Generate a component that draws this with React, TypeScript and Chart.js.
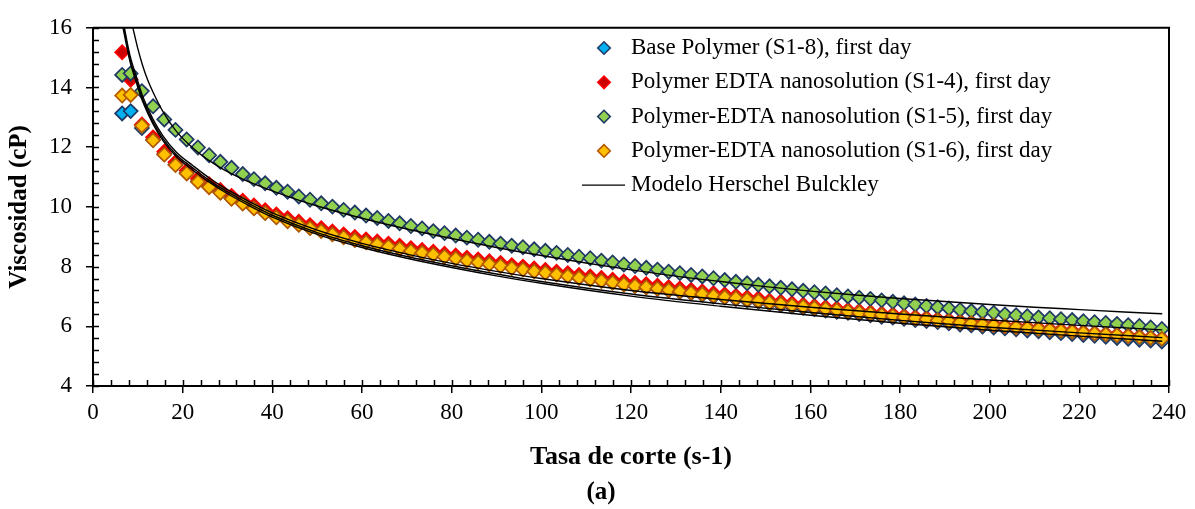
import React, { useEffect, useRef } from 'react';
import { Chart, registerables } from 'chart.js';

Chart.register(...registerables);

const FONT = "'Liberation Serif', 'Times New Roman', Times, serif";

// ---- data ----
const shearRate = [
  6.5, 8.4,
  10.9, 13.4, 15.9, 18.4, 20.9, 23.4, 25.9, 28.4, 30.9, 33.4,
  35.9, 38.4, 40.9, 43.4, 45.9, 48.4, 50.9, 53.4, 55.9, 58.4,
  60.9, 63.4, 65.9, 68.4, 70.9, 73.4, 75.9, 78.4, 80.9, 83.4,
  85.9, 88.4, 90.9, 93.4, 95.9, 98.4, 100.9, 103.4, 105.9, 108.4,
  110.9, 113.4, 115.9, 118.4, 120.9, 123.4, 125.9, 128.4, 130.9, 133.4,
  135.9, 138.4, 140.9, 143.4, 145.9, 148.4, 150.9, 153.4, 155.9, 158.4,
  160.9, 163.4, 165.9, 168.4, 170.9, 173.4, 175.9, 178.4, 180.9, 183.4,
  185.9, 188.4, 190.9, 193.4, 195.9, 198.4, 200.9, 203.4, 205.9, 208.4,
  210.9, 213.4, 215.9, 218.4, 220.9, 223.4, 225.9, 228.4, 230.9, 233.4,
  235.9, 238.4,
];

const baseS18 = [
  13.13, 13.21,
  12.64, 12.25, 11.77, 11.42, 11.14, 10.86, 10.68, 10.49, 10.29, 10.13,
  9.97, 9.81, 9.67, 9.54, 9.42, 9.31, 9.21, 9.10, 9.00, 8.91,
  8.83, 8.76, 8.69, 8.62, 8.54, 8.48, 8.42, 8.35, 8.29, 8.22,
  8.16, 8.10, 8.04, 7.97, 7.92, 7.86, 7.81, 7.75, 7.70, 7.64,
  7.59, 7.54, 7.48, 7.42, 7.36, 7.31, 7.26, 7.21, 7.16, 7.11,
  7.06, 7.00, 6.96, 6.91, 6.86, 6.82, 6.76, 6.71, 6.66, 6.62,
  6.58, 6.53, 6.49, 6.45, 6.41, 6.37, 6.32, 6.29, 6.25, 6.21,
  6.18, 6.14, 6.10, 6.06, 6.03, 5.99, 5.96, 5.93, 5.90, 5.86,
  5.83, 5.80, 5.77, 5.74, 5.71, 5.68, 5.65, 5.61, 5.58, 5.55,
  5.52, 5.49,
];

const edtaS14 = [
  15.18, 14.26,
  12.76, 12.33, 11.85, 11.50, 11.22, 10.94, 10.76, 10.57, 10.37, 10.21,
  10.05, 9.89, 9.75, 9.62, 9.50, 9.39, 9.29, 9.18, 9.08, 8.99,
  8.91, 8.84, 8.77, 8.70, 8.62, 8.56, 8.50, 8.43, 8.37, 8.30,
  8.24, 8.18, 8.12, 8.05, 8.00, 7.94, 7.89, 7.83, 7.78, 7.72,
  7.67, 7.62, 7.56, 7.50, 7.45, 7.41, 7.36, 7.31, 7.27, 7.22,
  7.17, 7.11, 7.07, 7.02, 6.97, 6.93, 6.86, 6.82, 6.77, 6.72,
  6.68, 6.64, 6.60, 6.55, 6.51, 6.47, 6.43, 6.40, 6.35, 6.31,
  6.28, 6.24, 6.21, 6.17, 6.13, 6.09, 6.06, 6.03, 6.00, 5.97,
  5.94, 5.91, 5.88, 5.85, 5.81, 5.78, 5.75, 5.72, 5.69, 5.66,
  5.63, 5.60,
];

const edtaS15 = [
  14.42, 14.47,
  13.88, 13.37, 12.93, 12.58, 12.26, 11.99, 11.73, 11.51, 11.31, 11.10,
  10.93, 10.79, 10.64, 10.51, 10.35, 10.24, 10.12, 10.01, 9.90, 9.81,
  9.71, 9.63, 9.53, 9.45, 9.36, 9.28, 9.19, 9.12, 9.04, 8.97,
  8.90, 8.83, 8.77, 8.70, 8.65, 8.58, 8.53, 8.46, 8.39, 8.33,
  8.28, 8.20, 8.14, 8.07, 8.02, 7.96, 7.90, 7.83, 7.78, 7.72,
  7.67, 7.61, 7.55, 7.49, 7.44, 7.39, 7.34, 7.29, 7.24, 7.19,
  7.14, 7.10, 7.04, 7.00, 6.96, 6.92, 6.87, 6.82, 6.77, 6.73,
  6.68, 6.64, 6.60, 6.55, 6.51, 6.48, 6.45, 6.40, 6.37, 6.34,
  6.30, 6.27, 6.24, 6.21, 6.17, 6.14, 6.11, 6.08, 6.04, 6.01,
  5.96, 5.91,
];

const edtaS16 = [
  13.73, 13.75,
  12.72, 12.23, 11.75, 11.40, 11.12, 10.84, 10.66, 10.47, 10.27, 10.11,
  9.95, 9.79, 9.65, 9.52, 9.40, 9.29, 9.19, 9.08, 8.98, 8.89,
  8.81, 8.74, 8.67, 8.60, 8.52, 8.46, 8.40, 8.33, 8.27, 8.20,
  8.14, 8.08, 8.02, 7.95, 7.90, 7.84, 7.79, 7.73, 7.68, 7.62,
  7.57, 7.52, 7.46, 7.40, 7.35, 7.31, 7.26, 7.21, 7.17, 7.12,
  7.08, 7.02, 6.98, 6.94, 6.89, 6.85, 6.79, 6.75, 6.70, 6.66,
  6.62, 6.58, 6.54, 6.50, 6.46, 6.42, 6.38, 6.35, 6.31, 6.27,
  6.24, 6.20, 6.17, 6.13, 6.10, 6.06, 6.03, 6.00, 5.97, 5.94,
  5.91, 5.88, 5.85, 5.82, 5.79, 5.76, 5.73, 5.70, 5.67, 5.64,
  5.61, 5.58,
];

// Herschel-Bulkley model curves
const hbX14 = [7.0, 8.2, 9.7, 11.1, 13.4, 15.6, 18.6, 22.3, 26, 30, 35, 40, 50, 60, 70, 80, 90, 100, 120, 140, 160, 180, 200, 220, 238.5];
const hbS14 = [16.0, 15.1, 14.35, 13.7, 12.93, 12.38, 11.83, 11.38, 10.96, 10.58, 10.17, 9.8, 9.22, 8.78, 8.42, 8.11, 7.84, 7.6, 7.2, 6.9, 6.64, 6.41, 6.21, 6.03, 5.88];
const hbX16 = [6.85, 8.2, 9.7, 11.1, 13.4, 15.6, 18.6, 22.3, 26, 30, 35, 40, 50, 60, 70, 80, 90, 100, 120, 140, 160, 180, 200, 220, 238.5];
const hbS16 = [16.0, 14.98, 14.24, 13.6, 12.84, 12.29, 11.75, 11.3, 10.88, 10.5, 10.09, 9.72, 9.14, 8.7, 8.34, 8.03, 7.75, 7.5, 7.08, 6.75, 6.46, 6.2, 5.97, 5.78, 5.62];
const hbX18 = [6.7, 8.2, 9.7, 11.1, 13.4, 15.6, 18.6, 22.3, 26, 30, 35, 40, 50, 60, 70, 80, 90, 100, 120, 140, 160, 180, 200, 220, 238.5];
const hbS18 = [16.0, 14.9, 14.15, 13.52, 12.77, 12.22, 11.68, 11.23, 10.82, 10.44, 10.03, 9.66, 9.08, 8.64, 8.28, 7.97, 7.69, 7.44, 7.01, 6.67, 6.37, 6.1, 5.87, 5.67, 5.5];
const hbX15 = [8.9, 10, 11.1, 12.2, 13.4, 15.6, 18.6, 23, 28.2, 33.4, 39.4, 45, 50, 60, 70, 80, 90, 100, 110, 120, 130, 140, 150, 160, 170, 180, 190, 200, 210, 220, 230, 238.5];
const hbS15 = [16.0, 15.3, 14.72, 14.25, 13.84, 13.19, 12.53, 11.88, 11.33, 10.93, 10.57, 10.27, 10.03, 9.62, 9.26, 8.94, 8.64, 8.37, 8.12, 7.89, 7.68, 7.5, 7.33, 7.18, 7.05, 6.93, 6.83, 6.73, 6.64, 6.56, 6.48, 6.42];

const xTicks = { min: 0, max: 240, step: 20, minor: 4 };
const yTicks = { min: 4, max: 16, step: 2, minor: 0.4 };

const seriesLabels = [
  'Base Polymer (S1-8), first day',
  'Polymer EDTA nanosolution (S1-4), first day',
  'Polymer-EDTA nanosolution (S1-5), first day',
  'Polymer-EDTA nanosolution (S1-6), first day',
];
const modelLabel = 'Modelo Herschel Bulckley';
const xTitle = 'Tasa de corte (s-1)';
const yTitle = 'Viscosidad (cP)';
const panelLabel = '(a)';

const styles = [
  { fill: '#00B0F0', border: '#1F3864' },
  { fill: '#CC0000', border: '#FF0000' },
  { fill: '#92D050', border: '#1F3864' },
  { fill: '#FFC000', border: '#B35900' },
];

const pts = (xs: number[], ys: number[]) => xs.map((x, i) => ({ x, y: ys[i] }));

function diamond(ctx: CanvasRenderingContext2D, x: number, y: number, r: number, fill: string, border: string, bw: number) {
  ctx.beginPath();
  ctx.moveTo(x - r, y);
  ctx.lineTo(x, y - r);
  ctx.lineTo(x + r, y);
  ctx.lineTo(x, y + r);
  ctx.closePath();
  ctx.fillStyle = fill;
  ctx.fill();
  ctx.lineWidth = bw;
  ctx.strokeStyle = border;
  ctx.stroke();
}

const framePlugin = {
  id: 'frameTicks',
  afterDraw(chart: any) {
    const { ctx, chartArea } = chart;
    const { left, right, top, bottom } = chartArea;
    const xs = chart.scales.x;
    const ys = chart.scales.y;
    ctx.save();
    ctx.strokeStyle = '#000';
    ctx.lineWidth = 2;
    ctx.beginPath();
    ctx.moveTo(left, top);
    ctx.lineTo(right, top);
    ctx.lineTo(right, bottom);
    ctx.stroke();
    ctx.lineWidth = 1.5;
    ctx.beginPath();
    const nx = Math.round((xTicks.max - xTicks.min) / xTicks.minor);
    for (let i = 0; i <= nx; i++) {
      const px = Math.round(xs.getPixelForValue(xTicks.min + i * xTicks.minor)) + 0.5;
      ctx.moveTo(px, bottom);
      ctx.lineTo(px, bottom - 6);
    }
    const ny = Math.round((yTicks.max - yTicks.min) / yTicks.minor);
    for (let i = 0; i <= ny; i++) {
      const py = Math.round(ys.getPixelForValue(yTicks.min + i * yTicks.minor)) + 0.5;
      ctx.moveTo(left, py);
      ctx.lineTo(left + 6, py);
    }
    ctx.stroke();
    // panel label
    ctx.fillStyle = '#000';
    ctx.font = `bold 25px ${FONT}`;
    ctx.textAlign = 'center';
    ctx.textBaseline = 'middle';
    ctx.fillText(panelLabel, 601, 493);
    ctx.restore();
  },
};

const legendPlugin = {
  id: 'insideLegend',
  afterDraw(chart: any) {
    const { ctx } = chart;
    const markerX = 604;
    const textX = 631;
    const top = 48;
    const row = 34.3;
    ctx.save();
    ctx.font = `23px ${FONT}`;
    ctx.textBaseline = 'middle';
    ctx.textAlign = 'left';
    seriesLabels.forEach((label, i) => {
      const y = top + i * row;
      diamond(ctx, markerX, y, 6.3, styles[i].fill, styles[i].border, 1.5);
      ctx.fillStyle = '#000';
      ctx.fillText(label, textX, y);
    });
    const y = top + 4 * row;
    ctx.strokeStyle = '#000';
    ctx.lineWidth = 1.3;
    ctx.beginPath();
    ctx.moveTo(582, y);
    ctx.lineTo(625, y);
    ctx.stroke();
    ctx.fillStyle = '#000';
    ctx.fillText(modelLabel, textX, y);
    ctx.restore();
  },
};

export default function App() {
  const ref = useRef<HTMLCanvasElement>(null);
  useEffect(() => {
    const canvas = ref.current;
    if (!canvas) return;
    Chart.defaults.font.family = FONT;
    const markerSets = [baseS18, edtaS14, edtaS15, edtaS16].map((ys, i) => ({
      type: 'scatter' as const,
      label: seriesLabels[i],
      data: pts(shearRate, ys),
      pointStyle: 'rectRot' as const,
      pointRadius: 7,
      pointHoverRadius: 7,
      pointBackgroundColor: styles[i].fill,
      pointBorderColor: styles[i].border,
      pointBorderWidth: 1.7,
      showLine: false,
      order: 4 - i,
    }));
    const modelSets = [
      [hbX18, hbS18],
      [hbX14, hbS14],
      [hbX15, hbS15],
      [hbX16, hbS16],
    ].map(([xs, ys]) => ({
      type: 'scatter' as const,
      label: modelLabel,
      data: pts(xs, ys),
      showLine: true,
      pointRadius: 0,
      borderColor: '#000',
      backgroundColor: '#000',
      borderWidth: 1.4,
      cubicInterpolationMode: 'monotone' as const,
      order: 0,
    }));
    const chart = new Chart(canvas, {
      type: 'scatter',
      data: { datasets: [...markerSets, ...modelSets] as any },
      options: {
        animation: false,
        responsive: false,
        layout: { padding: { top: 19.5, right: 26, left: 0, bottom: 36.4 } },
        scales: {
          x: {
            type: 'linear',
            min: xTicks.min,
            max: xTicks.max,
            afterFit: (s: any) => { s.height = 86.6; },
            ticks: { stepSize: xTicks.step, color: '#000', font: { size: 23, family: FONT }, padding: 6, maxRotation: 0, autoSkip: false },
            grid: { drawOnChartArea: false, drawTicks: true, tickLength: 7, color: '#000', lineWidth: 1.5 },
            border: { display: true, color: '#000', width: 2 },
            title: { display: true, text: xTitle, color: '#000', font: { size: 26, weight: 'bold', family: FONT }, padding: { top: 0, bottom: 0 } },
          },
          y: {
            type: 'linear',
            min: yTicks.min,
            max: yTicks.max,
            afterFit: (s: any) => { s.width = 93; },
            ticks: { stepSize: yTicks.step, color: '#000', font: { size: 23, family: FONT }, padding: 14 },
            grid: { drawOnChartArea: false, drawTicks: true, tickLength: 7, color: '#000', lineWidth: 1.5 },
            border: { display: true, color: '#000', width: 2 },
            title: { display: true, text: yTitle, color: '#000', font: { size: 25, weight: 'bold', family: FONT }, padding: { top: 5, bottom: 0 } },
          },
        },
        plugins: {
          legend: { display: false },
          tooltip: { enabled: false },
          title: { display: false },
        },
      },
      plugins: [framePlugin, legendPlugin],
    });
    return () => chart.destroy();
  }, []);
  return (
    <div style={{ position: 'absolute', left: 0, top: 0, width: 1195, height: 509, background: '#fff' }}>
      <canvas ref={ref} width={1195} height={509} style={{ display: 'block' }} />
    </div>
  );
}
